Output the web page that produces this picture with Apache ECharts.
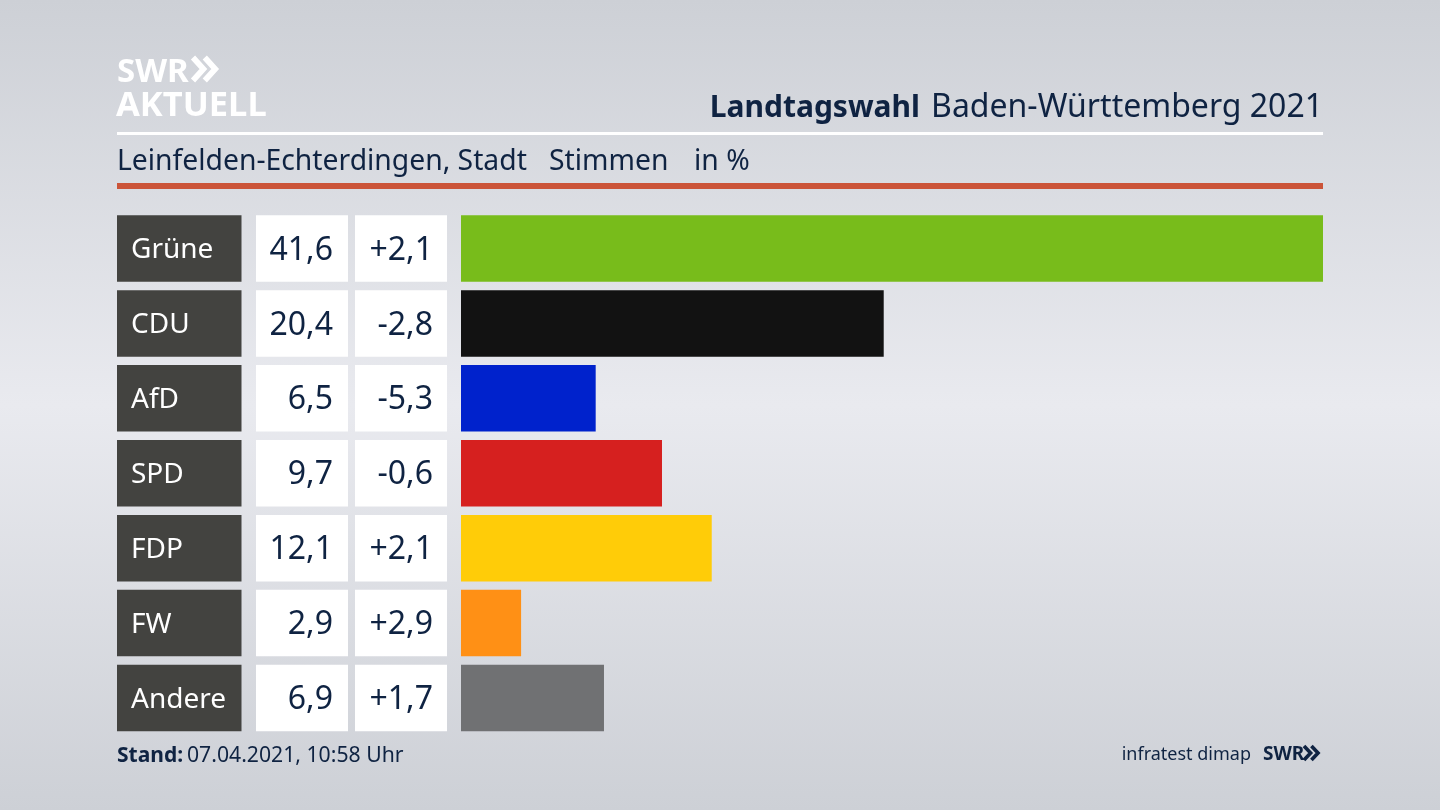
<!DOCTYPE html>
<html lang="de">

<head>
  <meta charset="UTF-8">
  <title>Landtagswahl Baden-Württemberg 2021</title>
  <script src="https://cdnjs.cloudflare.com/ajax/libs/echarts/6.0.0/echarts.min.js"></script>
  <style>
    html, body { margin: 0; padding: 0; }
    #main { width: 1440px; height: 810px; }
  </style>
</head>

<body>
  <div id="main"></div>
  <script type="text/javascript">
    var parties = ['Grüne', 'CDU', 'AfD', 'SPD', 'FDP', 'FW', 'Andere'];
    var shares = [41.6, 20.4, 6.5, 9.7, 12.1, 2.9, 6.9];
    var changes = ['+2,1', '-2,8', '-5,3', '-0,6', '+2,1', '+2,9', '+1,7'];
    var colors = ['#78bc1b', '#121212', '#0022cc', '#d6201f', '#ffcc08', '#ff9015', '#707173'];

    var font = '"Noto Sans"';
    var navy = '#0f2342';

    function shareText(v) {
      return v.toFixed(1).replace('.', ',');
    }

    var lefts = [117, 256, 355, 461];
    var widths = [124.5, 92, 92, 862];
    var grids = [], xAxes = [], yAxes = [], series = [];

    lefts.forEach(function (l, i) {
      grids.push({ left: l, width: widths[i], top: 211, height: 524.5 });
      xAxes.push({ gridIndex: i, type: 'value', min: 0, max: i === 3 ? 41.6 : 1, show: false });
      yAxes.push({ gridIndex: i, type: 'category', data: parties, inverse: true, show: false });
    });

    // the three table columns are full-width bars with a label
    function cellSeries(idx, fill, textColor, pos, size, dist, texts) {
      return {
        type: 'bar',
        xAxisIndex: idx,
        yAxisIndex: idx,
        barWidth: 66.5,
        silent: true,
        animation: false,
        data: parties.map(function () { return 1; }),
        itemStyle: { color: fill },
        label: {
          show: true,
          position: pos,
          distance: dist,
          offset: [0, 2],
          color: textColor,
          fontFamily: font,
          fontSize: size,
          formatter: function (p) { return texts[p.dataIndex]; }
        }
      };
    }

    series.push(cellSeries(0, '#434340', '#ffffff', 'insideLeft', 28, 14, parties));
    series.push(cellSeries(1, '#ffffff', navy, 'insideRight', 32, 15, shares.map(shareText)));
    series.push(cellSeries(2, '#ffffff', navy, 'insideRight', 32, 14, changes));
    series.push({
      type: 'bar',
      xAxisIndex: 3,
      yAxisIndex: 3,
      barWidth: 66.5,
      silent: true,
      animation: false,
      data: shares.map(function (v, i) {
        return { value: v, itemStyle: { color: colors[i] } };
      })
    });

    function txt(x, y, text, size, opts) {
      opts = opts || {};
      return {
        type: 'text',
        x: x,
        y: y,
        silent: true,
        style: {
          text: text,
          fill: opts.fill || navy,
          fontFamily: font,
          fontSize: size,
          fontWeight: opts.weight || 'normal',
          align: opts.align || 'left',
          verticalAlign: 'middle'
        }
      };
    }

    function chevrons(x, y, h, w, color) {
      var out = [];
      [0, w * 0.62].forEach(function (dx) {
        out.push({
          type: 'polyline',
          silent: true,
          shape: { points: [[x + dx, y - h / 2], [x + dx + w * 0.55, y], [x + dx, y + h / 2]] },
          style: { stroke: color, lineWidth: w * 0.3, fill: null }
        });
      });
      return out;
    }

    var graphics = [
      { type: 'rect', silent: true, shape: { x: 117, y: 132, width: 1206, height: 3 }, style: { fill: '#ffffff' } },
      { type: 'rect', silent: true, shape: { x: 117, y: 183, width: 1206, height: 6 }, style: { fill: '#cb5439' } },
      txt(117, 73, 'SWR', 33, { fill: '#ffffff', weight: 'bold' }),
      txt(116, 106, 'AKTUELL', 34.5, { fill: '#ffffff', weight: 'bold' }),
      txt(920, 108, 'Landtagswahl', 30, { weight: 'bold', align: 'right' }),
      txt(1323, 108, 'Baden-Württemberg 2021', 32, { align: 'right' }),
      txt(117, 162, 'Leinfelden-Echterdingen, Stadt', 28.3),
      txt(549, 162, 'Stimmen', 28.3),
      txt(694, 162, 'in %', 28.3),
      txt(117, 756, 'Stand:', 21, { weight: 'bold' }),
      txt(187, 756, '07.04.2021, 10:58 Uhr', 21.2),
      txt(1251, 755, 'infratest dimap', 18, { align: 'right' }),
      txt(1263, 755, 'SWR', 19, { weight: 'bold' })
    ];
    graphics = graphics
      .concat(chevrons(193, 69, 23, 19, '#ffffff'))
      .concat(chevrons(1304, 753, 14, 12, navy));

    var myChart = echarts.init(document.getElementById('main'));
    myChart.setOption({
      animation: false,
      backgroundColor: {
        type: 'linear',
        x: 0, y: 0, x2: 0, y2: 1,
        colorStops: [
          { offset: 0, color: '#cdd0d6' },
          { offset: 0.5, color: '#e9eaef' },
          { offset: 1, color: '#cdd0d6' }
        ]
      },
      grid: grids,
      xAxis: xAxes,
      yAxis: yAxes,
      series: series,
      graphic: graphics
    });
  </script>
</body>

</html>
